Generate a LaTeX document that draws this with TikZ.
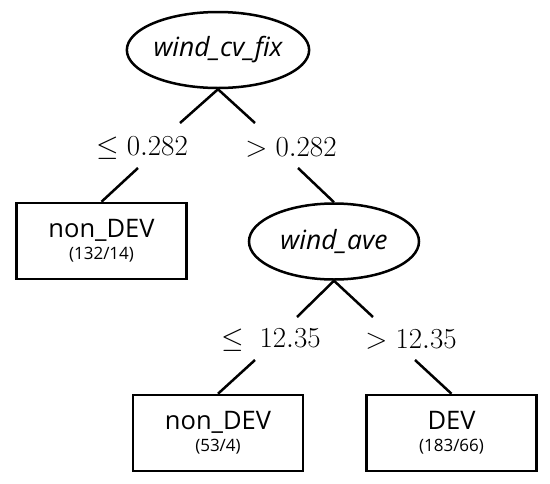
\documentclass[tikz,border=0pt]{standalone}
\usepackage{fix-cm}
\usepackage{fontspec}
\setmainfont{Open Sans}
\usetikzlibrary{shapes.geometric}
\begin{document}
\begin{tikzpicture}[x=1pt,y=-1pt,
  splitnode/.style={draw, ellipse, line width=2.5pt, minimum width=170pt, minimum height=76pt, inner sep=0pt,
    font=\fontsize{26.5}{30}\selectfont\itshape},
  leafbox/.style={draw, rectangle, line width=2.5pt, minimum width=170pt, minimum height=76pt, inner sep=0pt, align=center,
    font=\fontsize{17}{22}\selectfont},
  cond/.style={font=\fontsize{29}{32}\selectfont, inner sep=0pt},
  branch/.style={line width=2.5pt}]
\useasboundingbox (0,0) rectangle (550,483);
\node[splitnode] (e1) at (218,50) {wind\_cv\_fix};
\node[cond] (l1) at (142,148) {$\leq 0.282$};
\node[cond] (l2) at (291,148) {$> 0.282$};
\node[leafbox] (b1) at (101.5,241) {{\fontsize{25.5}{22}\selectfont non\_DEV}\\(132/14)};
\node[splitnode] (e2) at (334,241.5) {wind\_ave};
\node[cond] (l3) at (271,340) {$\leq\ 12.35$};
\node[cond] (l4) at (411,340) {$> 12.35$};
\node[leafbox] (b2) at (218,433) {{\fontsize{25.5}{22}\selectfont non\_DEV}\\(53/4)};
\node[leafbox] (b3) at (451.5,433) {{\fontsize{25.5}{22}\selectfont DEV}\\(183/66)};
\coordinate (a1) at (180,123);
\coordinate (a2) at (138,168);
\coordinate (a3) at (255,123);
\coordinate (a4) at (298,168);
\coordinate (a5) at (297,317);
\coordinate (a6) at (255,360);
\coordinate (a7) at (373,317);
\coordinate (a8) at (415,360);
\draw[branch] (e1.south) -- (a1);
\draw[branch] (a2) -- (b1.north);
\draw[branch] (e1.south) -- (a3);
\draw[branch] (a4) -- (e2.north);
\draw[branch] (e2.south) -- (a5);
\draw[branch] (a6) -- (b2.north);
\draw[branch] (e2.south) -- (a7);
\draw[branch] (a8) -- (b3.north);
\end{tikzpicture}
\end{document}
